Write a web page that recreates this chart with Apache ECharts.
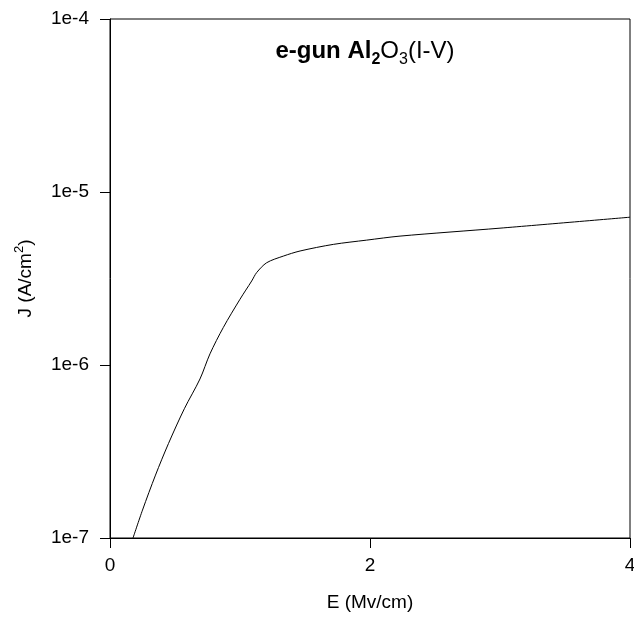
<!DOCTYPE html>
<html>
<head>
<meta charset="utf-8">
<script src="https://cdn.jsdelivr.net/npm/echarts@6/dist/echarts.min.js"></script>
<style>
  html, body { margin: 0; padding: 0; background: #fff; }
  #chart { width: 634px; height: 618px; }
</style>
</head>
<body>
<div id="chart"></div>
<script>
// E field (MV/cm) and current density J (A/cm^2)
const fieldE = [0.177, 0.25, 0.35, 0.45, 0.572, 0.692, 0.769, 0.872, 1.0, 1.09, 1.128,
                1.205, 1.333, 1.462, 1.718, 1.974, 2.231, 3.0, 4.0];
const currentJ = [1.0e-7, 1.45e-7, 2.31e-7, 3.52e-7, 5.59e-7, 8.3e-7, 1.16e-6, 1.65e-6, 2.4e-6, 3.06e-6, 3.42e-6,
                  3.9e-6, 4.26e-6, 4.56e-6, 4.98e-6, 5.27e-6, 5.56e-6, 6.18e-6, 7.15e-6];
const xTicks = [0, 2, 4];
const yTicks = [1e-7, 1e-6, 1e-5, 1e-4];

const chart = echarts.init(document.getElementById('chart'), null, { renderer: 'canvas' });

const font = 'Liberation Sans, Arial, sans-serif';

// subscripts: same top as the main text, pushed down with top padding
const sub = (bold) => ({
  fontFamily: font, fontSize: 16, fontWeight: bold ? 'bold' : 'normal', color: '#000',
  lineHeight: 16, verticalAlign: 'top', padding: [13, 0, 0, 0]
});
const main = (bold) => ({
  fontFamily: font, fontSize: 24, fontWeight: bold ? 'bold' : 'normal', color: '#000',
  lineHeight: 24, verticalAlign: 'top'
});

chart.setOption({
  animation: false,
  backgroundColor: '#fff',
  title: {
    text: '{b|e-gun Al}{bs|2}{n|O}{ns|3}{n|(I-V)}',
    left: 360,
    textAlign: 'center',
    top: 34,
    textStyle: {
      rich: { b: main(true), bs: sub(true), n: main(false), ns: sub(false) }
    }
  },
  grid: {
    left: 110, right: 4, top: 19, bottom: 80,
    outerBoundsMode: 'none',
    containLabel: false,
    show: true, borderColor: '#000', borderWidth: 1
  },
  xAxis: {
    type: 'value',
    min: 0, max: 4, interval: 2,
    name: 'E (Mv/cm)',
    nameLocation: 'middle',
    nameGap: 55,
    nameTextStyle: { fontFamily: font, fontSize: 19, color: '#000' },
    axisLine: { lineStyle: { color: '#000', width: 1 } },
    axisTick: { show: true, length: 10, inside: false, lineStyle: { color: '#000' } },
    axisLabel: {
      fontFamily: font, fontSize: 19, color: '#000', margin: 18,
      customValues: xTicks
    },
    splitLine: { show: false }
  },
  yAxis: {
    type: 'log',
    logBase: 10,
    min: yTicks[0], max: yTicks[yTicks.length - 1],
    name: '{n|J (A/cm}{s|2}{n|)}',
    nameLocation: 'middle',
    nameGap: 72,
    nameTextStyle: {
      rich: {
        n: { fontFamily: font, fontSize: 19, color: '#000', lineHeight: 22, verticalAlign: 'bottom' },
        s: { fontFamily: font, fontSize: 13, color: '#000', lineHeight: 13, verticalAlign: 'top', padding: [0, 0, 14, 0] }
      }
    },
    axisLine: { show: true, lineStyle: { color: '#000', width: 1 } },
    axisTick: { show: true, length: 10, inside: false, lineStyle: { color: '#000' } },
    axisLabel: {
      fontFamily: font, fontSize: 19, color: '#000', margin: 21,
      formatter: v => '1e' + Math.round(Math.log10(v))
    },
    minorTick: { show: false },
    splitLine: { show: false }
  },
  series: [{
    type: 'line',
    data: fieldE.map((e, i) => [e, currentJ[i]]),
    showSymbol: false,
    smooth: 0.3,
    lineStyle: { color: '#000', width: 1 }
  }]
});
</script>
</body>
</html>
